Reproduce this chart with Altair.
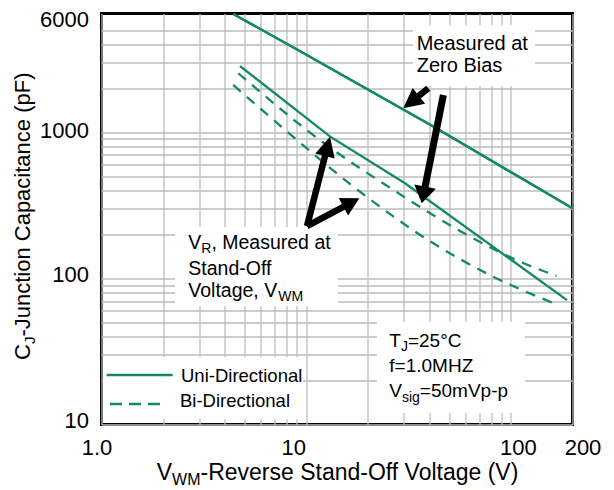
import math
import altair as alt
import pandas as pd

# ---------------- data ----------------
zero_v = [4.4, 9.3, 42, 200]
zero_c = [6450, 3600, 1090, 302]

uni_v = [4.75, 13.1, 30.4, 188]
uni_c = [2840, 933, 448, 71]

bi1_v = [4.66, 12.1, 27.2, 60, 114, 167]
bi1_c = [2535, 851, 396, 201, 128, 104]

bi2_v = [4.4, 7.9, 16.4, 42.6, 80.5, 160]
bi2_c = [2107, 1037, 442, 171, 104, 68]

x_grid = [1, 2, 3, 4, 5, 6, 7, 8, 9, 10, 20, 30, 40, 50, 60, 70, 80, 90, 100, 200]
x_tick_values = [1, 10, 100, 200]
x_tick_labels = ["1.0", "10", "100", "200"]

y_grid = [10, 20, 30, 40, 50, 60, 70, 80, 90, 100, 200, 300, 400, 500, 600, 700,
          800, 900, 1000, 2000, 3000, 4000, 5000, 6000]
y_tick_values = [10, 100, 1000, 6000]
y_tick_labels = ["10", "100", "1000", "6000"]

# arrows (tail voltage, tail pF, tip voltage, tip pF)
arrow_tail_v = [39.5, 46.8, 10.09, 10.09]
arrow_tail_c = [2000, 1799, 228, 228]
arrow_tip_v = [29.8, 36.7, 13.07, 18.18]
arrow_tip_c = [1459, 327, 933, 353]

# ---------------- layout ----------------
GREEN = "#138a62"
FONT = "Liberation Sans"
W, H = 471, 411
OX, OY = 101.5, 13.5           # page position of plot origin
SVG_W, SVG_H = 598, 482
XD = [1, 200]
YD = [10, 6500]


def px(v):
    return W * math.log10(v / XD[0]) / math.log10(XD[1] / XD[0])


def py(c):
    return H * (1 - math.log10(c / YD[0]) / math.log10(YD[1] / YD[0]))


def inv_px(p):
    return XD[0] * 10 ** (p / W * math.log10(XD[1] / XD[0]))


def inv_py(p):
    return YD[0] * 10 ** ((1 - p / H) * math.log10(YD[1] / YD[0]))


xscale = alt.Scale(type="log", domain=XD, nice=False)
yscale = alt.Scale(type="log", domain=YD, nice=False)


def cond_expr(vals, labs):
    e = "''"
    for v, l in zip(vals[::-1], labs[::-1]):
        e = f"datum.value == {v} ? '{l}' : ({e})"
    return e


x_axis = alt.Axis(
    values=x_grid, labelExpr=cond_expr(x_tick_values, x_tick_labels),
    grid=True, gridColor="#bdbdbd", gridWidth=1.3, ticks=False, tickSize=0,
    domain=False, labelFont=FONT, labelFontSize=22, labelColor="black",
    labelPadding=23, labelBaseline="middle", labelFlush=False, labelOverlap=False,
    labelOffset={"condition": [{"test": "datum.value == 1", "value": -5},
                               {"test": "datum.value == 10", "value": -13},
                               {"test": "datum.value == 100", "value": 7},
                               {"test": "datum.value == 200", "value": 10}],
                 "value": 0},
    title=None)

y_axis = alt.Axis(
    values=y_grid, labelExpr=cond_expr(y_tick_values, y_tick_labels),
    grid=True, gridWidth=1.3, ticks=False, tickSize=0,
    gridColor={"condition": {"test": "datum.value == 6000", "value": "transparent"},
               "value": "#bdbdbd"},
    domain=False, labelFont=FONT, labelFontSize=22, labelColor="black",
    labelPadding=13, labelBaseline="middle", labelFlush=False, labelOverlap=False,
    labelOffset={"condition": [{"test": "datum.value == 6000", "value": 1},
                               {"test": "datum.value == 1000", "value": -2},
                               {"test": "datum.value == 100", "value": -4},
                               {"test": "datum.value == 10", "value": -4}],
                 "value": 0},
    title=None)

X = alt.X("v:Q", scale=xscale, axis=x_axis)
Y = alt.Y("c:Q", scale=yscale, axis=y_axis)

layers = []

# base layer carrying the axes
layers.append(alt.Chart(pd.DataFrame({"v": zero_v, "c": zero_c})).mark_line(
    color=GREEN, strokeWidth=2.3).encode(x=X, y=Y))

# white boxes behind the texts (page coords)
boxes = [(103, 357, 303, 419), (175, 227, 338, 306), (413, 25, 535, 86), (377, 322, 525, 413)]
for x1, y1, x2, y2 in boxes:
    layers.append(alt.Chart(pd.DataFrame({"a": [0]})).mark_rect(color="white").encode(
        x=alt.value(x1 - OX), x2=alt.value(x2 - OX), y=alt.value(y1 - OY), y2=alt.value(y2 - OY)))

# curves
layers.append(alt.Chart(pd.DataFrame({"v": zero_v, "c": zero_c})).mark_line(
    color=GREEN, strokeWidth=2.3).encode(x=X, y=Y))
layers.append(alt.Chart(pd.DataFrame({"v": uni_v, "c": uni_c})).mark_line(
    color=GREEN, strokeWidth=2.3).encode(x=X, y=Y))
layers.append(alt.Chart(pd.DataFrame({"v": bi1_v, "c": bi1_c})).mark_line(
    color=GREEN, strokeWidth=2.3, strokeDash=[10, 8], interpolate="monotone").encode(x=X, y=Y))
layers.append(alt.Chart(pd.DataFrame({"v": bi2_v, "c": bi2_c})).mark_line(
    color=GREEN, strokeWidth=2.3, strokeDash=[10, 8], interpolate="monotone").encode(x=X, y=Y))

# arrows
head_len = [20, 17, 20, 18]
head_w = [20, 22, 20, 20]
shaft_w = [6.5, 7, 6.5, 6.5]
for tv, tc, hv, hc, L, hw, sw in zip(arrow_tail_v, arrow_tail_c, arrow_tip_v, arrow_tip_c,
                                      head_len, head_w, shaft_w):
    x0, y0, x1, y1 = px(tv), py(tc), px(hv), py(hc)
    dx, dy = x1 - x0, y1 - y0
    d = math.hypot(dx, dy)
    ux, uy = dx / d, dy / d
    bx, by = x1 - ux * L * 0.5, y1 - uy * L * 0.5
    ang = math.degrees(math.atan2(dx, -dy)) % 360
    layers.append(alt.Chart(pd.DataFrame({"v": [tv], "c": [tc], "v2": [inv_px(bx)], "c2": [inv_py(by)]}))
                  .mark_rule(color="black", strokeWidth=sw, strokeCap="butt")
                  .encode(x=X, y=Y, x2="v2:Q", y2="c2:Q"))
    path = f"M0,0L{hw/2},{L}L{-hw/2},{L}Z"
    layers.append(alt.Chart(pd.DataFrame({"v": [hv], "c": [hc]}))
                  .mark_point(shape=path, size=4, filled=True, color="black", opacity=1,
                              strokeWidth=0, angle=ang)
                  .encode(x=X, y=Y))

# legend samples
layers.append(alt.Chart(pd.DataFrame({"a": [0]})).mark_rule(color=GREEN, strokeWidth=2.3).encode(
    x=alt.value(106.7 - OX), x2=alt.value(172.7 - OX), y=alt.value(375 - OY)))
layers.append(alt.Chart(pd.DataFrame({"a": [0]})).mark_rule(
    color=GREEN, strokeWidth=2.3, strokeDash=[12, 7]).encode(
    x=alt.value(110 - OX), x2=alt.value(163 - OX), y=alt.value(404 - OY)))

# ---------------- texts ----------------
CW = {' ': 278, '(': 333, ')': 333, ',': 278, '-': 333, '.': 278, '=': 584, '°': 400,
      'A': 667, 'B': 667, 'C': 722, 'D': 722, 'E': 667, 'F': 611, 'H': 722, 'I': 278,
      'J': 500, 'M': 833, 'O': 778, 'R': 722, 'S': 667, 'T': 611, 'U': 722, 'V': 667,
      'W': 944, 'Z': 611, 'a': 556, 'b': 556, 'c': 500, 'd': 556, 'e': 556, 'f': 278,
      'g': 556, 'i': 222, 'l': 222, 'm': 833, 'n': 556, 'o': 556, 'p': 556, 'r': 333,
      's': 500, 't': 278, 'u': 556, 'v': 500}


def tw(s, size):
    return sum(CW.get(ch, 556) for ch in s) / 1000 * size


def runs(x0, y0, pieces, rotate=False):
    out = []
    pos = 0
    for text, size, shift in pieces:
        if rotate:
            out.append((text, size, x0 + shift, y0 - pos, 270))
        else:
            out.append((text, size, x0 + pos, y0 + shift, 0))
        pos += tw(text, size)
    return out


texts = []
texts += runs(30, 360, [("C", 22, 0), ("J", 15, 5), ("-Junction Capacitance (pF)", 22, 0)], rotate=True)
texts += runs(156.7, 480, [("V", 23, 0), ("WM", 16, 5), ("-Reverse Stand-Off Voltage (V)", 23, 0)])
texts += runs(416.7, 50, [("Measured at", 20, 0)])
texts += runs(416.7, 72, [("Zero Bias", 20, 0)])
texts += runs(188.3, 249, [("V", 19.5, 0), ("R", 14, 4), (", Measured at", 19.5, 0)])
texts += runs(188.3, 275, [("Stand-Off", 19.5, 0)])
texts += runs(188.3, 297, [("Voltage, V", 19.5, 0), ("WM", 14, 4)])
texts += runs(181, 381.7, [("Uni-Directional", 18.5, 0)])
texts += runs(180, 406.7, [("Bi-Directional", 18.5, 0)])
texts += runs(389.3, 346.7, [("T", 19, 0), ("J", 14, 4), ("=25°C", 19, 0)])
texts += runs(389.3, 371.7, [("f=1.0MHZ", 19, 0)])
texts += runs(389.3, 396.7, [("V", 19, 0), ("sig", 14, 5), ("=50mVp-p", 19, 0)])

for text, size, x, y, ang in texts:
    layers.append(alt.Chart(pd.DataFrame({"a": [0]})).mark_text(
        text=text, font=FONT, fontSize=size, align="left", baseline="alphabetic",
        angle=ang, color="black").encode(x=alt.value(x - OX), y=alt.value(y - OY)))

chart = alt.layer(*layers).properties(
    width=W, height=H,
    padding={"left": OX - 8, "top": OY - 8, "right": SVG_W - (OX - 8) - W,
             "bottom": SVG_H - (OY - 8) - H},
    autosize=alt.AutoSizeParams(type="none"),
).configure_view(stroke="black", strokeWidth=3)

chart.save("out.html", embed_options={"renderer": "svg", "actions": False})
